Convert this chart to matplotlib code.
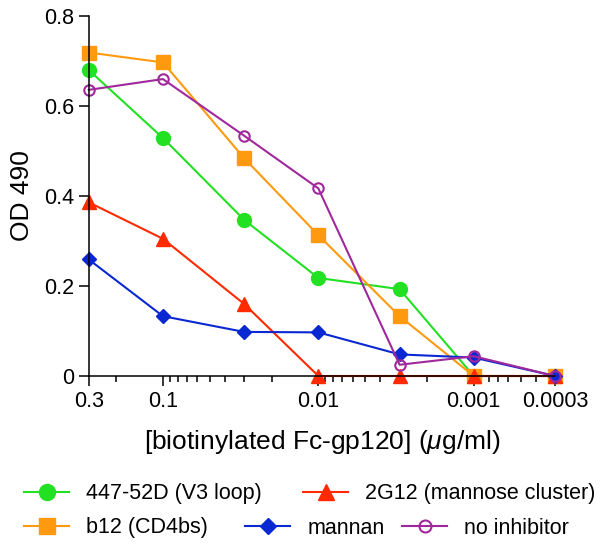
import matplotlib
matplotlib.use('Agg')
import matplotlib.pyplot as plt
from matplotlib.ticker import FixedLocator, FixedFormatter, LogLocator, NullFormatter

plt.rcParams['font.family'] = ['Liberation Sans', 'DejaVu Sans']
plt.rcParams['mathtext.fontset'] = 'custom'
plt.rcParams['mathtext.rm'] = 'Liberation Sans'
plt.rcParams['mathtext.it'] = 'Liberation Sans:italic'

# concentration of biotinylated Fc-gp120 (ug/ml)
conc = [0.3, 0.1, 0.03, 0.01, 0.003, 0.001, 0.0003]

# OD 490 for each inhibitor
od_447 = [0.680, 0.529, 0.347, 0.218, 0.193, 0.0, 0.0]
od_b12 = [0.719, 0.697, 0.484, 0.313, 0.133, 0.0, 0.0]
od_2g12 = [0.386, 0.305, 0.160, 0.0, 0.0, 0.0, 0.0]
od_mannan = [0.259, 0.133, 0.098, 0.097, 0.048, 0.041, 0.0]
od_none = [0.636, 0.660, 0.534, 0.417, 0.025, 0.044, 0.0]

labels = ['447-52D (V3 loop)', 'b12 (CD4bs)', '2G12 (mannose cluster)',
          'mannan', 'no inhibitor']

xticks = [0.3, 0.1, 0.01, 0.001, 0.0003]
xticklabels = ['0.3', '0.1', '0.01', '0.001', '0.0003']
yticks = [0, 0.2, 0.4, 0.6, 0.8]
yticklabels = ['0', '0.2', '0.4', '0.6', '0.8']

fig = plt.figure(figsize=(6, 5.47), dpi=100)
ax = fig.add_axes([0.148, 0.3126, 0.777, 0.658])

lines = {}
lines['447'] = ax.plot(conc, od_447, color='#22e022', marker='o', ms=10, lw=1.5,
                       label=labels[0], clip_on=False)[0]
lines['b12'] = ax.plot(conc, od_b12, color='#ff9a10', marker='s', ms=10.5, lw=1.5,
                       label=labels[1], clip_on=False)[0]
lines['2g12'] = ax.plot(conc, od_2g12, color='#ff2a00', marker='^', ms=10.5, lw=1.5,
                        label=labels[2], clip_on=False)[0]
lines['mannan'] = ax.plot(conc, od_mannan, color='#0a28d2', marker='D', ms=7, lw=1.5,
                          label=labels[3], clip_on=False)[0]
lines['none'] = ax.plot(conc, od_none, color='#a0289c', marker='o', ms=7.5, lw=1.5,
                        mfc='none', mew=1.5, label=labels[4], clip_on=False)[0]

ax.set_xscale('log')
ax.set_xlim(0.3, 0.0003)
ax.set_ylim(0, 0.8)

ax.xaxis.set_major_locator(FixedLocator(xticks))
ax.xaxis.set_major_formatter(FixedFormatter(xticklabels))
ax.xaxis.set_minor_locator(LogLocator(base=10, subs=range(2, 10)))
ax.xaxis.set_minor_formatter(NullFormatter())
ax.yaxis.set_major_locator(FixedLocator(yticks))
ax.yaxis.set_major_formatter(FixedFormatter(yticklabels))

for s in ['top', 'right']:
    ax.spines[s].set_visible(False)
for s in ['left', 'bottom']:
    ax.spines[s].set_linewidth(1.1)

ax.tick_params(which='major', direction='out', length=7, width=1.1, labelsize=15.5, pad=3.5)
ax.tick_params(which='minor', direction='out', length=4, width=1.1)

ax.set_ylabel('OD 490', fontsize=19, labelpad=7)
ax.set_xlabel(r'[biotinylated Fc-gp120] ($\mathit{\mu}$g/ml)', fontsize=19, labelpad=12)

# legend entries placed as in the reference (two irregular rows)
leg_pos = {'447': (24, 494), '2g12': (303, 494), 'b12': (24, 528),
           'mannan': (245, 528), 'none': (402, 528)}
for key, (px, py) in leg_pos.items():
    leg = fig.legend(handles=[lines[key]], loc='center left',
                     bbox_to_anchor=(px / 600, 1 - py / 547), frameon=False,
                     borderpad=0, borderaxespad=0, handlelength=2.1,
                     handletextpad=0.8, fontsize=15.5, markerscale=1.15)

fig.savefig('out.png', dpi=100)
